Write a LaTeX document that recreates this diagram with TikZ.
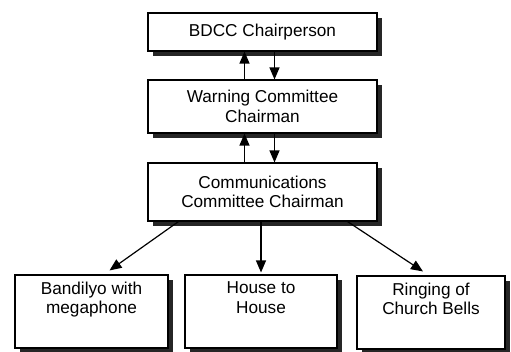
\documentclass[tikz,border=0pt]{standalone}
\usepackage{fontspec}
\setmainfont{Liberation Sans}
\usetikzlibrary{arrows.meta,shadows}
\tikzset{
  box/.style={rectangle,draw,line width=1.1pt,fill=white,minimum width=229pt,
    drop shadow={shadow xshift=5pt,shadow yshift=-5pt,fill=black!85,opacity=1},
    align=center,font=\fontsize{17.2}{19.5}\selectfont},
  leaf/.style={box,minimum width=152pt,minimum height=73pt},
  txt/.style={align=center,font=\fontsize{17.2}{19.5}\selectfont,anchor=north},
  arr/.style={-{Triangle[width=10pt,length=12pt]},line width=1.2pt}
}

\begin{document}
\begin{tikzpicture}[x=1pt,y=-1pt]
      \useasboundingbox (0,0) rectangle (511,352);

      \node[box,minimum height=38pt] (bdcc) at (262.5,32) {BDCC Chairperson};
      \node[box,minimum height=53pt] (warn) at (262.5,106.5) {Warning Committee\\Chairman};
      \node[box,minimum height=58pt] (comm) at (262.5,192) {Communications\\Committee Chairman};
      \node[leaf,minimum width=153pt] (band) at (91.5,311.5) {};
      \node[leaf] (house) at (261,311.5) {};
      \node[leaf,minimum width=148pt] (bells) at (431,312.5) {};
      \node[txt] (bandtxt) at ([yshift=-4pt]band.north) {Bandilyo with\\megaphone};
      \node[txt] (housetxt) at ([yshift=-4pt]house.north) {House to\\House};
      \node[txt] (bellstxt) at ([yshift=-4pt]bells.north) {Ringing of\\Church Bells};

      \draw[arr] ([xshift=-18pt]warn.north) -- ([xshift=-18pt]bdcc.south);
      \draw[arr] ([xshift=12pt]bdcc.south) -- ([xshift=12pt]warn.north);
      \draw[arr] ([xshift=-18pt]comm.north) -- ([xshift=-18pt]warn.south);
      \draw[arr] ([xshift=12pt]warn.south) -- ([xshift=12pt]comm.north);
      \draw[arr] ([xshift=-84pt]comm.south) -- ([xshift=18pt,yshift=4pt]band.north);
      \draw[arr] (house.north |- comm.south) -- ([yshift=2pt]house.north);
      \draw[arr] ([xshift=85pt]comm.south) -- ([xshift=-8pt,yshift=4pt]bells.north);
    \end{tikzpicture}
\end{document}
